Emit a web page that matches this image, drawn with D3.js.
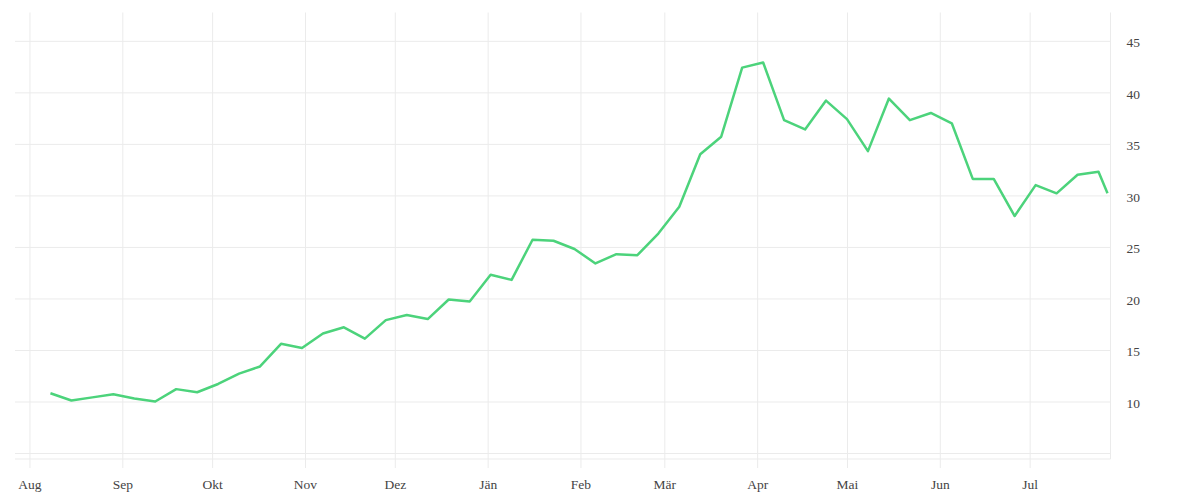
<!DOCTYPE html>
<html lang="de">
<head>
  <meta charset="UTF-8">
  <title>Wochenwerte</title>
  <script src="https://d3js.org/d3.v7.min.js"></script>
  <style>
    body {
      margin: 0;
      background: white;
    }
    .grid line, .grid path {
      stroke: #ebebeb;
      stroke-width: 1;
    }
    .axis text {
      font-family: "Liberation Serif", serif;
      font-size: 13.5px;
      fill: #444;
    }
    .line {
      fill: none;
      stroke: #4cd37b;
      stroke-width: 2.5;
      stroke-linejoin: round;
    }
  </style>
</head>
<body>
  <svg width="1200" height="500"></svg>
  <script>
    // weekly observations
    const dates = [
      "2020-08-08", "2020-08-15", "2020-08-22", "2020-08-29", "2020-09-05", "2020-09-12",
      "2020-09-19", "2020-09-26", "2020-10-03", "2020-10-10", "2020-10-17", "2020-10-24",
      "2020-10-31", "2020-11-07", "2020-11-14", "2020-11-21", "2020-11-28", "2020-12-05",
      "2020-12-12", "2020-12-19", "2020-12-26", "2021-01-02", "2021-01-09", "2021-01-16",
      "2021-01-23", "2021-01-30", "2021-02-06", "2021-02-13", "2021-02-20", "2021-02-27",
      "2021-03-06", "2021-03-13", "2021-03-20", "2021-03-27", "2021-04-03", "2021-04-10",
      "2021-04-17", "2021-04-24", "2021-05-01", "2021-05-08", "2021-05-15", "2021-05-22",
      "2021-05-29", "2021-06-05", "2021-06-12", "2021-06-19", "2021-06-26", "2021-07-03",
      "2021-07-10", "2021-07-17", "2021-07-24", "2021-07-27"
    ];
    const values = [
      10.8, 10.1, 10.4, 10.7, 10.3, 10.0, 11.2, 10.9, 11.7, 12.7, 13.4, 15.6,
      15.2, 16.6, 17.2, 16.1, 17.9, 18.4, 18.0, 19.9, 19.7, 22.3, 21.8, 25.7,
      25.6, 24.8, 23.4, 24.3, 24.2, 26.3, 28.9, 34.0, 35.7, 42.4, 42.9, 37.3,
      36.4, 39.2, 37.4, 34.3, 39.4, 37.3, 38.0, 37.0, 31.6, 31.6, 28.0, 31.0,
      30.2, 32.0, 32.3, 30.2
    ];

    const monthTicks = [
      "2020-08-01", "2020-09-01", "2020-10-01", "2020-11-01", "2020-12-01", "2021-01-01",
      "2021-02-01", "2021-03-01", "2021-04-01", "2021-05-01", "2021-06-01", "2021-07-01"
    ];
    const monthLabels = ["Aug", "Sep", "Okt", "Nov", "Dez", "Jän", "Feb", "Mär", "Apr", "Mai", "Jun", "Jul"];
    const yGridTicks = [5, 10, 15, 20, 25, 30, 35, 40, 45];
    const yLabelTicks = [10, 15, 20, 25, 30, 35, 40, 45];

    const parse = d3.timeParse("%Y-%m-%d");
    const data = dates.map((d, i) => ({ date: parse(d), value: values[i] }));
    const tickDates = monthTicks.map(parse);

    const plotLeft = 15, plotRight = 1110.5, plotTop = 12.5, plotBottom = 459;

    const svg = d3.select("svg");

    const x = d3.scaleTime()
      .domain([new Date(2020, 6, 27, 4), new Date(2021, 6, 28)])
      .range([plotLeft, plotRight]);
    const y = d3.scaleLinear()
      .domain([4.42, 47.75])
      .range([plotBottom, plotTop]);

    // vertical grid (extends below the plot like ticks)
    svg.append("g")
      .attr("class", "grid")
      .attr("transform", `translate(0,${plotBottom + 9})`)
      .call(d3.axisTop(x).tickValues(tickDates).tickSize(plotBottom + 9 - plotTop).tickFormat(""))
      .call(g => g.select(".domain").remove());

    // horizontal grid
    svg.append("g")
      .attr("class", "grid")
      .attr("transform", `translate(${plotRight},0)`)
      .call(d3.axisLeft(y).tickValues(yGridTicks).tickSize(plotRight - plotLeft).tickFormat(""))
      .call(g => g.select(".domain").remove());

    // frame lines: bottom baseline and right axis
    svg.append("g").attr("class", "grid")
      .append("line")
      .attr("x1", plotLeft).attr("x2", plotRight)
      .attr("y1", plotBottom).attr("y2", plotBottom);
    svg.append("g").attr("class", "grid")
      .append("line")
      .attr("x1", plotRight).attr("x2", plotRight)
      .attr("y1", plotTop).attr("y2", plotBottom);

    // x axis labels
    svg.append("g")
      .attr("class", "axis")
      .attr("transform", `translate(0,${plotBottom + 14})`)
      .call(d3.axisBottom(x).tickValues(tickDates).tickSize(0).tickPadding(6)
        .tickFormat((d, i) => monthLabels[i]))
      .call(g => g.select(".domain").remove());

    // y axis labels on the right
    svg.append("g")
      .attr("class", "axis")
      .attr("transform", `translate(${plotRight},1.5)`)
      .call(d3.axisRight(y).tickValues(yLabelTicks).tickSize(0).tickPadding(16))
      .call(g => g.select(".domain").remove());

    const line = d3.line()
      .x(d => x(d.date))
      .y(d => y(d.value));

    svg.append("path")
      .datum(data)
      .attr("class", "line")
      .attr("d", line);
  </script>
</body>
</html>
